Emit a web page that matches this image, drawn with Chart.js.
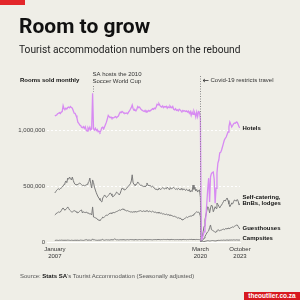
<!DOCTYPE html>
<html>
<head>
<meta charset="utf-8">
<script src="https://cdn.jsdelivr.net/npm/chart.js@4.4.1/dist/chart.umd.min.js"></script>
<style>
  html, body { margin: 0; padding: 0; background: #efeee7; }
  #wrap { position: relative; width: 300px; height: 300px; overflow: hidden; }
  canvas { position: absolute; left: 0; top: 0; }
  .t { position: absolute; white-space: nowrap; }
  #bar { position: absolute; left: 0; top: 0; width: 25px; height: 5px; background: #e3262a; }
  #title { left: 19px; top: 14px; font: 700 21px/24px Roboto, sans-serif; color: #111; }
  #sub { left: 19px; top: 43.8px; font: 400 10.2px/12px Roboto, sans-serif; color: #222; }
  #ylab { left: 20px; top: 77px; font: 700 6px/7px "Liberation Sans", sans-serif; color: #111; }
  #src { left: 20px; top: 273px; font: 400 6px/7px "Liberation Sans", sans-serif; color: #555; }
  #src b { color: #111; }
  #logo { left: 244px; top: 291.5px; width: 56px; height: 8.5px; background: #d71920; color: #fff;
          font: 700 6.5px/8.5px "Liberation Sans", sans-serif; text-align: center; }
</style>
</head>
<body>
<div id="wrap">
  <canvas id="chart" width="300" height="300"></canvas>
  <div id="bar"></div>
  <div class="t" id="title">Room to grow</div>
  <div class="t" id="sub">Tourist accommodation numbers on the rebound</div>
  <div class="t" id="ylab">Rooms sold monthly</div>
  <div class="t" id="src">Source: <b>Stats SA</b>'s Tourist Accommodation (Seasonally adjusted)</div>
  <div class="t" id="logo">theoutlier.co.za</div>
</div>
<script>
// months are counted from January 2007 (index 0) to October 2023 (index 201)
var xTickIdx = [0, 158, 201];
var xTickLabels = [['January', '2007'], ['March', '2020'], ['October', '2023']];
var yTicks = [0, 500, 1000]; // thousands of rooms
var covidIdx = 158;
var worldCupIdx = 41;
var seriesNames = [['Hotels'], ['Self-catering,', 'BnBs, lodges'], ['Guesthouses'], ['Campsites']];

// rooms sold per month, thousands
var hotels = [
  1125, 1130, 1134, 1145, 1150, 1155, 1148, 1160, 1165, 1217, 1190, 1185,
  1195, 1188, 1200, 1205, 1198, 1210, 1200, 1195, 1172, 1150, 1148, 1130,
  1107, 1070, 1060, 1045, 1040, 1025, 1020, 1030, 1015, 1030, 1000, 990,
  1020, 1005, 1025, 1000, 1010, 1328, 1010, 1000, 1015, 995, 1005, 985,
  990, 980, 995, 1020, 1025, 1010, 1030, 1050, 1070, 1100, 1130, 1120,
  1110, 1115, 1105, 1110, 1108, 1115, 1120, 1110, 1118, 1125, 1145, 1160,
  1155, 1165, 1158, 1150, 1150, 1148, 1152, 1145, 1160, 1170, 1185, 1200,
  1223, 1190, 1175, 1180, 1170, 1185, 1210, 1200, 1205, 1190, 1180, 1175,
  1170, 1165, 1175, 1160, 1170, 1165, 1175, 1168, 1175, 1180, 1190, 1185,
  1195, 1190, 1205, 1230, 1225, 1235, 1220, 1210, 1205, 1215, 1200, 1210,
  1205, 1212, 1195, 1208, 1200, 1215, 1205, 1198, 1210, 1185, 1180, 1190,
  1175, 1180, 1170, 1185, 1178, 1170, 1165, 1175, 1168, 1172, 1165, 1170,
  1160, 1168, 1150, 1165, 1130, 1160, 1140, 1170, 1150, 1115, 1160, 1120,
  1165, 1160, 1100, 20, 30, 60, 90, 150, 230, 350, 480, 570,
  357, 583, 610, 620, 625, 560, 346, 480, 616, 705, 732, 795,
  800, 821, 850, 880, 911, 925, 937, 960, 982, 1030, 1071, 1050,
  1027, 1040, 1055, 1063, 1060, 1071, 1068, 1050, 1027, 1020
];
var selfCatering = [
  438, 450, 462, 470, 475, 468, 478, 482, 490, 500, 515, 527,
  545, 530, 571, 560, 580, 565, 554, 580, 550, 527, 515, 512,
  509, 515, 520, 527, 518, 512, 505, 509, 500, 505, 509, 515,
  527, 540, 571, 520, 482, 554, 530, 490, 464, 440, 420, 402,
  390, 375, 365, 357, 393, 405, 420, 410, 398, 405, 415, 425,
  438, 430, 415, 402, 410, 420, 430, 446, 440, 430, 420, 435,
  460, 482, 475, 470, 464, 470, 480, 491, 500, 509, 520, 545,
  600, 527, 515, 505, 509, 520, 536, 525, 515, 505, 509, 500,
  495, 500, 491, 505, 527, 510, 500, 509, 498, 490, 500, 492,
  480, 470, 475, 464, 470, 482, 475, 468, 478, 485, 480, 472,
  482, 475, 490, 478, 470, 485, 480, 475, 482, 488, 478, 470,
  475, 468, 480, 472, 465, 478, 470, 464, 475, 468, 460, 472,
  464, 455, 470, 446, 460, 450, 509, 470, 491, 455, 470, 446,
  460, 465, 400, 10, 40, 90, 140, 200, 241, 280, 315, 300,
  260, 304, 330, 320, 270, 290, 315, 300, 348, 335, 320, 304,
  320, 330, 345, 360, 375, 365, 380, 393, 370, 340, 315, 330,
  348, 340, 360, 375, 370, 365, 380, 365, 330, 345
];
var guesthouses = [
  241, 248, 259, 262, 268, 265, 268, 280, 295, 304, 290, 285,
  292, 300, 313, 300, 286, 278, 270, 268, 275, 280, 277, 270,
  265, 259, 268, 275, 282, 286, 259, 270, 265, 262, 268, 260,
  259, 255, 250, 252, 241, 313, 223, 220, 216, 214, 205, 196,
  196, 192, 200, 210, 223, 218, 225, 232, 241, 238, 245, 250,
  259, 255, 262, 258, 265, 262, 268, 272, 275, 280, 286, 282,
  288, 292, 295, 290, 285, 282, 277, 280, 275, 272, 268, 270,
  265, 270, 268, 272, 270, 268, 272, 275, 277, 280, 275, 272,
  278, 275, 272, 277, 280, 275, 270, 277, 272, 268, 275, 270,
  265, 268, 262, 259, 265, 258, 262, 255, 258, 250, 252, 248,
  245, 250, 242, 245, 241, 238, 241, 235, 232, 228, 230, 225,
  222, 214, 218, 210, 215, 205, 200, 196, 205, 210, 215, 223,
  218, 225, 228, 232, 230, 235, 240, 250, 255, 262, 270, 265,
  268, 258, 230, 8, 12, 20, 35, 50, 65, 80, 92, 100,
  130, 152, 110, 105, 100, 95, 85, 92, 100, 110, 105, 100,
  105, 107, 112, 115, 110, 118, 120, 115, 125, 122, 120, 128,
  130, 135, 132, 140, 145, 150, 152, 140, 125, 115
];
var campsites = [
  14, 15, 16, 15, 14, 16, 15, 17, 16, 15, 16, 15,
  16, 15, 17, 16, 15, 14, 16, 15, 14, 15, 16, 15,
  15, 16, 14, 15, 17, 16, 15, 14, 16, 18, 22, 17,
  16, 18, 17, 15, 16, 28, 18, 20, 17, 16, 15, 16,
  17, 16, 18, 19, 24, 17, 16, 18, 20, 18, 19, 17,
  18, 20, 22, 18, 20, 30, 22, 19, 20, 18, 19, 20,
  20, 19, 21, 20, 19, 18, 20, 21, 19, 20, 22, 21,
  21, 20, 19, 22, 21, 20, 19, 21, 22, 20, 21, 20,
  20, 21, 22, 20, 19, 21, 20, 22, 21, 20, 19, 21,
  21, 22, 20, 21, 23, 22, 21, 20, 22, 21, 23, 22,
  22, 21, 23, 22, 21, 20, 22, 23, 21, 22, 20, 21,
  21, 22, 20, 21, 22, 20, 21, 22, 23, 21, 22, 20,
  22, 21, 23, 22, 24, 21, 22, 23, 22, 21, 23, 22,
  22, 21, 15, 1, 2, 3, 5, 6, 8, 10, 12, 11,
  9, 10, 12, 13, 12, 11, 9, 11, 13, 14, 15, 14,
  15, 16, 15, 17, 16, 15, 17, 18, 16, 17, 18, 17,
  18, 17, 19, 18, 17, 19, 18, 17, 18, 17
];

var toPoints = function(arr) {
  return arr.map(function(v, i) { return { x: i, y: v }; });
};

// small vertical nudges for the end labels so they don't collide
var labelShift = [0.5, -6.5, -1, -2];

var notes = {
  id: 'notes',
  afterDatasetsDraw: function(chart) {
    var ctx = chart.ctx, xs = chart.scales.x, ys = chart.scales.y, area = chart.chartArea;
    ctx.save();
    ctx.lineWidth = 1;
    ctx.strokeStyle = '#8a8a8a';
    ctx.setLineDash([1, 1.5]);
    var cx = Math.round(xs.getPixelForValue(covidIdx)) + 0.5;
    ctx.beginPath(); ctx.moveTo(cx, 76); ctx.lineTo(cx, area.bottom); ctx.stroke();
    var wx = Math.round(xs.getPixelForValue(worldCupIdx)) + 0.5;
    ctx.beginPath(); ctx.moveTo(wx, 86); ctx.lineTo(wx, ys.getPixelForValue(hotels[worldCupIdx]) - 1.5); ctx.stroke();
    ctx.setLineDash([]);

    // arrow to the covid line
    ctx.strokeStyle = '#333';
    ctx.lineWidth = 0.8;
    ctx.beginPath();
    ctx.moveTo(cx + 8, 80.5); ctx.lineTo(cx + 2.5, 80.5);
    ctx.moveTo(cx + 4.5, 79); ctx.lineTo(cx + 2.5, 80.5); ctx.lineTo(cx + 4.5, 82);
    ctx.stroke();

    ctx.font = '6px "Liberation Sans"';
    ctx.fillStyle = '#333';
    ctx.textBaseline = 'middle';
    ctx.textAlign = 'left';
    ctx.fillText('Covid-19 restricts travel', cx + 10, 80.7);
    ctx.fillText('SA hosts the 2010', wx - 1, 74.3);
    ctx.fillText('Soccer World Cup', wx - 1, 81);

    ctx.font = 'bold 6px "Liberation Sans"';
    ctx.fillStyle = '#111';
    chart.data.datasets.forEach(function(ds, k) {
      var last = ds.data[ds.data.length - 1];
      var y = ys.getPixelForValue(last.y) + labelShift[k];
      seriesNames[k].forEach(function(line, j) {
        ctx.fillText(line, area.right + 2.5, y + j * 6.7);
      });
    });
    ctx.restore();
  }
};

new Chart(document.getElementById('chart').getContext('2d'), {
  type: 'line',
  data: {
    datasets: [
      { label: 'Hotels', data: toPoints(hotels), borderColor: '#d78af2', borderWidth: 1.3 },
      { label: 'Self-catering, BnBs, lodges', data: toPoints(selfCatering), borderColor: '#7a7a7a', borderWidth: 1 },
      { label: 'Guesthouses', data: toPoints(guesthouses), borderColor: '#7a7a7a', borderWidth: 1 },
      { label: 'Campsites', data: toPoints(campsites), borderColor: '#7a7a7a', borderWidth: 1 }
    ]
  },
  options: {
    responsive: false,
    devicePixelRatio: 1,
    animation: false,
    elements: { point: { radius: 0 }, line: { tension: 0 } },
    layout: { padding: { top: 74, right: 60, bottom: 36, left: 0 } },
    plugins: { legend: { display: false }, tooltip: { enabled: false } },
    scales: {
      x: {
        type: 'linear', min: -8.5, max: 201,
        afterBuildTicks: function(s) { s.ticks = xTickIdx.map(function(v) { return { value: v }; }); },
        afterFit: function(s) { s.height = 22; },
        grid: { display: false, drawTicks: false },
        border: { display: true, color: '#ffffff', width: 1 },
        ticks: {
          padding: 4, autoSkip: false, maxRotation: 0, color: '#333',
          font: { family: 'Liberation Sans', size: 6, lineHeight: 1.1 },
          callback: function(v) { return xTickLabels[xTickIdx.indexOf(v)]; }
        }
      },
      y: {
        min: 0, max: 1500,
        afterBuildTicks: function(s) { s.ticks = yTicks.map(function(v) { return { value: v }; }); },
        afterFit: function(s) { s.width = 47; },
        grid: { color: '#ffffff', lineWidth: 1, drawTicks: false },
        border: { display: false, dash: [2, 2] },
        ticks: {
          padding: 2, color: '#444',
          font: { family: 'Liberation Sans', size: 6 },
          callback: function(v) { return (v * 1000).toLocaleString('en-US'); }
        }
      }
    }
  },
  plugins: [notes]
});
</script>
</body>
</html>
